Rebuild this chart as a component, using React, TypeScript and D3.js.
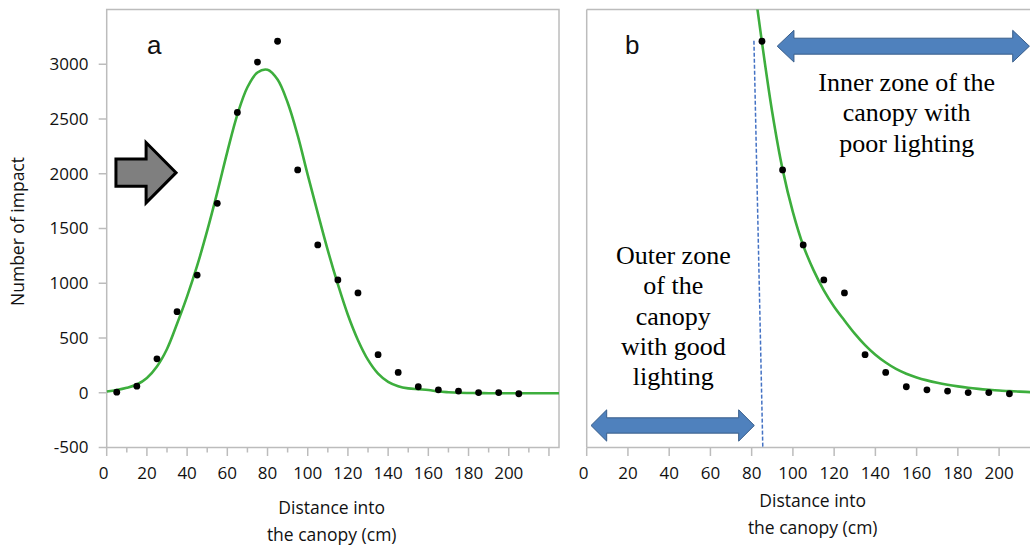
import React from "react";
import * as d3 from "d3";

// measured impacts per 10 cm band (band centres)
const distances = [5, 15, 25, 35, 45, 55, 65, 75, 85, 95, 105, 115, 125, 135, 145, 155, 165, 175, 185, 195, 205];
const impacts = [5, 60, 310, 740, 1075, 1730, 2560, 3020, 3210, 2035, 1350, 1030, 912, 348, 186, 55, 27, 15, 2, 2, -9];

// fitted curve, panel a (every 5 cm)
const fitAX = d3.range(0, 230, 5);
const fitAY = [12, 25, 45, 75, 135, 240, 400, 630, 880, 1160, 1480, 1830, 2200, 2540, 2790, 2925, 2950, 2860, 2650, 2350,
  1990, 1640, 1300, 990, 710, 480, 300, 175, 100, 60, 40, 32, 25, 12, 5, 0, -2, -3, -4, -5, -5, -5, -5, -5, -5, -5];

// fitted decay curve, panel b
const fitBX = d3.range(80, 230, 5);
const fitBY = [3900, 3200, 2560, 2040, 1650, 1345, 1120, 935, 785, 660, 540, 435, 347, 276, 218, 174, 140, 113, 91, 73,
  58, 45, 35, 27, 20, 15, 10, 6, 4, 2];

const yTicks = [-500, 0, 500, 1000, 1500, 2000, 2500, 3000];
const xLabels = [0, 20, 40, 60, 80, 100, 120, 140, 160, 180, 200];

const outerZone = ["Outer zone", "of the", "canopy", "with good", "lighting"];
const innerZone = ["Inner zone of the", "canopy with", "poor lighting"];

const W = 1030, H = 546;
const top = 9.5, bottom = 447.5;
const aLeft = 106.7, aRight = 559;
const bLeft = 586.7;

const y = d3.scaleLinear().domain([-500, 3500]).range([bottom, top]);
const xA = d3.scaleLinear().domain([0, 225]).range([aLeft, aRight]);
const xB = d3.scaleLinear().domain([0, 225]).range([bLeft, bLeft + 225 * 2.062]);

const axisCol = "#bcbcbc";
const green = "#3dae3d";
const tickFont = "'Open Sans', 'Noto Sans', sans-serif";

// double/single block arrow in data units
const blockArrow = (x, yc, x0, x1, head, shaftH, headH, both) => {
  const a = x(x0), b = x(x1);
  const c = y(yc);
  const s = y(yc - shaftH) - c, h = y(yc - headH) - c;
  const hl = x(x0 + head) - a;
  if (both) {
    return `M${a},${c} L${a + hl},${c - h} L${a + hl},${c - s} L${b - hl},${c - s} L${b - hl},${c - h} L${b},${c}` +
      ` L${b - hl},${c + h} L${b - hl},${c + s} L${a + hl},${c + s} L${a + hl},${c + h} Z`;
  }
  return `M${a},${c - s} L${b - hl},${c - s} L${b - hl},${c - h} L${b},${c} L${b - hl},${c + h} L${b - hl},${c + s} L${a},${c + s} Z`;
};

export default function App() {
  const lineA = d3.line<number>().x((d, i) => xA(fitAX[i])).y((d) => y(d)).curve(d3.curveCatmullRom.alpha(0.5));
  const lineB = d3.line<number>().x((d, i) => xB(fitBX[i])).y((d) => y(d)).curve(d3.curveCatmullRom.alpha(0.5));

  const ticks10 = d3.range(0, 230, 10);

  return (
    <svg width={W} height={H} style={{ position: "absolute", left: 0, top: 0, background: "#fff" }}>
      <defs>
        <clipPath id="clipA"><rect x={aLeft} y={top} width={aRight - aLeft} height={bottom - top} /></clipPath>
        <clipPath id="clipB"><rect x={bLeft} y={top} width={W - bLeft} height={bottom - top} /></clipPath>
      </defs>

      {/* ---------- panel a ---------- */}
      <rect x={aLeft} y={top} width={aRight - aLeft} height={bottom - top} fill="none" stroke={axisCol} strokeWidth={1.5} />
      {yTicks.map((t) => (
        <g key={"ya" + t}>
          <line x1={aLeft - 8} x2={aLeft} y1={y(t)} y2={y(t)} stroke={axisCol} strokeWidth={1.5} />
          <text x={88.5} y={y(t)} dy="0.35em" textAnchor="end" fontFamily={tickFont} fontSize={17} fill="#111">{t}</text>
        </g>
      ))}
      {ticks10.map((t) => (
        <line key={"xa" + t} x1={xA(t)} x2={xA(t)} y1={bottom} y2={bottom + (t % 20 === 0 ? 8.5 : 5)} stroke={axisCol} strokeWidth={1.5} />
      ))}
      {xLabels.map((t) => (
        <text key={"xla" + t} x={xA(t) - (t === 0 ? 3 : 0)} y={478.5} textAnchor="middle" fontFamily={tickFont} fontSize={17} fill="#111">{t}</text>
      ))}
      <text transform="translate(24,231.5) rotate(-90)" textAnchor="middle" fontFamily={tickFont} fontSize={17.5} fill="#111">Number of impact</text>
      <text x={331.7} y={514} textAnchor="middle" fontFamily={tickFont} fontSize={17.5} fill="#111">Distance into</text>
      <text x={331.7} y={541} textAnchor="middle" fontFamily={tickFont} fontSize={17.5} fill="#111">the canopy (cm)</text>

      <text x={147} y={54} fontFamily="'Liberation Sans', Arial, sans-serif" fontSize={26} fill="#111">a</text>
      <path d={blockArrow(xA, 2010, 4.6, 34.5, 14.9, 125, 275, false)} fill="#7f7f7f" stroke="#000" strokeWidth={3} strokeLinejoin="miter" />

      <path d={lineA(fitAY) || ""} fill="none" stroke={green} strokeWidth={2.6} clipPath="url(#clipA)" />
      {distances.map((d, i) => (
        <circle key={"pa" + d} cx={xA(d)} cy={y(impacts[i])} r={3.4} fill="#000" />
      ))}

      {/* ---------- panel b ---------- */}
      <line x1={bLeft} x2={W} y1={top} y2={top} stroke={axisCol} strokeWidth={1.5} />
      <line x1={bLeft} x2={bLeft} y1={top} y2={bottom} stroke={axisCol} strokeWidth={1.5} />
      <line x1={bLeft} x2={W} y1={bottom} y2={bottom} stroke={axisCol} strokeWidth={1.5} />
      {xLabels.map((t) => (
        <g key={"xb" + t}>
          <line x1={xB(t)} x2={xB(t)} y1={bottom} y2={bottom + 8.5} stroke={axisCol} strokeWidth={1.5} />
          <text x={xB(t) - (t === 0 ? 3 : 0)} y={479.3} textAnchor="middle" fontFamily={tickFont} fontSize={17} fill="#111">{t}</text>
        </g>
      ))}
      <text x={812.7} y={506.5} textAnchor="middle" fontFamily={tickFont} fontSize={17.5} fill="#111">Distance into</text>
      <text x={812.7} y={533.5} textAnchor="middle" fontFamily={tickFont} fontSize={17.5} fill="#111">the canopy (cm)</text>

      <text x={625} y={54} fontFamily="'Liberation Sans', Arial, sans-serif" fontSize={26} fill="#111">b</text>

      <line x1={xB(81.1)} y1={y(3215)} x2={xB(85.4)} y2={y(-497)} stroke="#4472c4" strokeWidth={1.5} strokeDasharray="4,2" />

      <path d={blockArrow(xB, 3165, 92.4, 214.7, 8.1, 73, 145, true)} fill="#4f81bd" stroke="#385d8a" strokeWidth={1} />
      <path d={blockArrow(xB, -299, 2.1, 81.3, 7.6, 70, 143, true)} fill="#4f81bd" stroke="#385d8a" strokeWidth={1} />

      {innerZone.map((s, i) => (
        <text key={s} x={906.7} y={90.7 + i * 30.5} textAnchor="middle" fontFamily="'Liberation Serif', 'Times New Roman', serif" fontSize={26} fill="#000">{s}</text>
      ))}
      {outerZone.map((s, i) => (
        <text key={s} x={673.3} y={264 + i * 30.3} textAnchor="middle" fontFamily="'Liberation Serif', 'Times New Roman', serif" fontSize={26} fill="#000">{s}</text>
      ))}

      <path d={lineB(fitBY) || ""} fill="none" stroke={green} strokeWidth={2.6} clipPath="url(#clipB)" />
      {distances.filter((d) => d >= 85).map((d) => (
        <circle key={"pb" + d} cx={xB(d)} cy={y(impacts[distances.indexOf(d)])} r={3.4} fill="#000" />
      ))}
    </svg>
  );
}
